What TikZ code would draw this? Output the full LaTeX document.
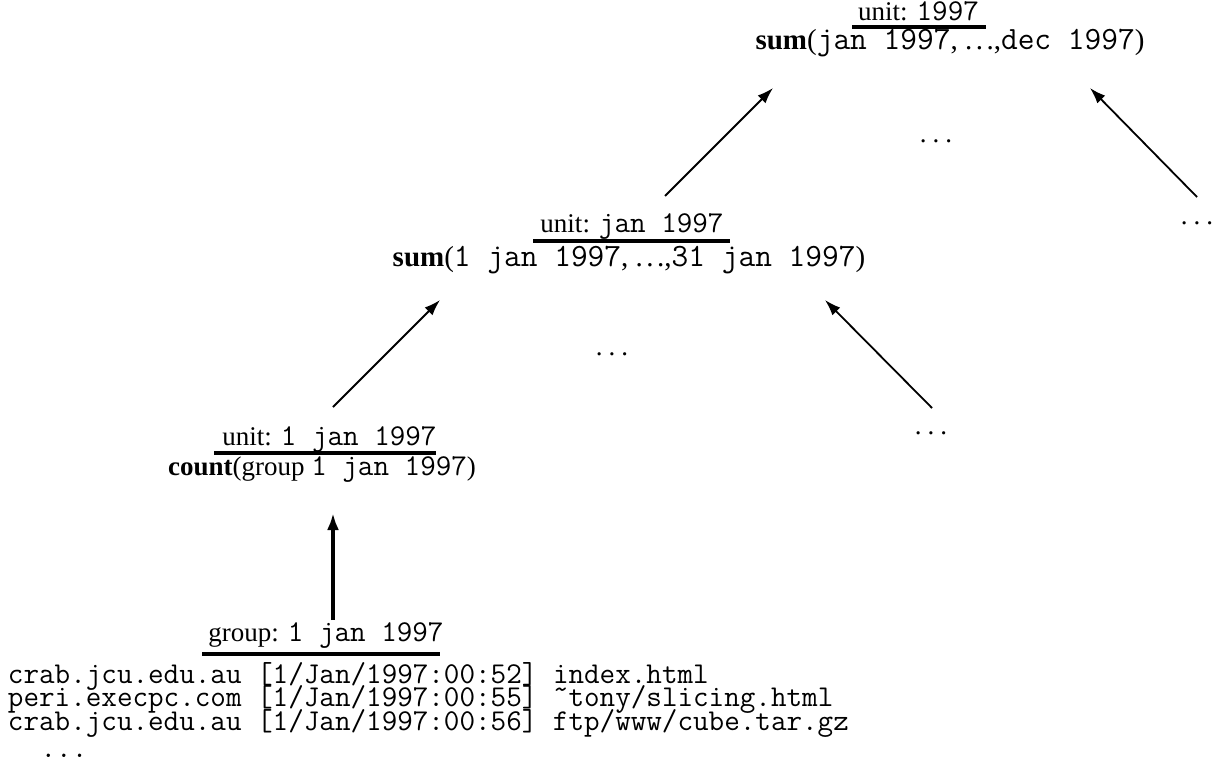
\documentclass[tikz,border=0pt]{standalone}
\usepackage{fontspec}
\setmainfont{Liberation Serif}
\setmonofont{Latin Modern Mono}[Scale=1.12]
\usetikzlibrary{arrows.meta}
% three spaced periods, gap given as argument
\newcommand\sepdots[1]{.\kern#1.\kern#1.}
% tightly spaced typewriter lines for the log excerpt
\newcommand\logfont{\fontsize{27}{23.5}\selectfont\lineskiplimit=-50pt\relax\ttfamily}
\begin{document}
\begin{tikzpicture}[x=1pt,y=-1pt,
  every node/.style={inner sep=0pt, outer sep=0pt, font=\fontsize{27}{27}\selectfont},
  lab/.style={anchor=base},
  aggr/.style={anchor=base, font=\fontsize{29}{29}\selectfont},
  logblock/.style={anchor=base west, align=left, font=\logfont},
  ul/.style={line width=3.3pt},
  link/.style={line width=1.8pt, -{Latex[length=16pt,width=11pt]}},
  thicklink/.style={line width=3.4pt, -{Latex[length=17pt,width=12pt]}},
]
\useasboundingbox (0,0) rectangle (1213,771);

% yearly level
\node[lab] (u3) at (918.5,20.5) {unit: \texttt{1997}};
\draw[ul] (852,27) -- (986,27);
\node[aggr] (s3) at (950,49.5) {\textbf{sum}(\texttt{jan 1997}, \sepdots{3.5pt},\texttt{dec 1997})};

% monthly level
\node[lab] (u2) at (632,232) {unit: \texttt{jan 1997}};
\draw[ul] (533,241) -- (730,241);
\node[aggr] (s2) at (629,266) {\textbf{sum}(\texttt{1 jan 1997}, \sepdots{3.5pt},\texttt{31 jan 1997})};

% daily level
\node[lab] (u1) at (329.5,445) {unit: \texttt{1 jan 1997}};
\draw[ul] (214,453) -- (436,453);
\node[lab] (c1) at (322,475) {\textbf{count}(group \texttt{1 jan 1997})};

% raw log group
\node[lab] (g0) at (326,641) {group: \texttt{1 jan 1997}};
\draw[ul] (202,654) -- (440,654);
% anchor "base" of a multi-line node sits on its last line
\node[logblock] (log) at (8,730) {crab.jcu.edu.au [1/Jan/1997:00:52] index.html\\
peri.execpc.com [1/Jan/1997:00:55] ˜tony/slicing.html\\
crab.jcu.edu.au [1/Jan/1997:00:56] ftp/www/cube.tar.gz};
\node[lab] (more) at (64,757) {\texttt{...}};

% elided siblings
\node[lab] (d1) at (612,355) {\sepdots{6pt}};
\node[lab] (d2) at (931,434) {\sepdots{6pt}};
\node[lab] (d3) at (936,142) {\sepdots{6pt}};
\node[lab] (d4) at (1197,224) {\sepdots{6pt}};

% arrow end points
\coordinate (a0) at (333,620); \coordinate (b0) at (333,513);
\coordinate (a1) at (333,407); \coordinate (b1) at (440,300);
\coordinate (a2) at (932,408); \coordinate (b2) at (825,300);
\coordinate (a3) at (665,196); \coordinate (b3) at (773,88);
\coordinate (a4) at (1197,197); \coordinate (b4) at (1090,88);

\draw[thicklink] (a0) -- (b0);
\draw[link] (a1) -- (b1);
\draw[link] (a2) -- (b2);
\draw[link] (a3) -- (b3);
\draw[link] (a4) -- (b4);
\end{tikzpicture}
\end{document}
